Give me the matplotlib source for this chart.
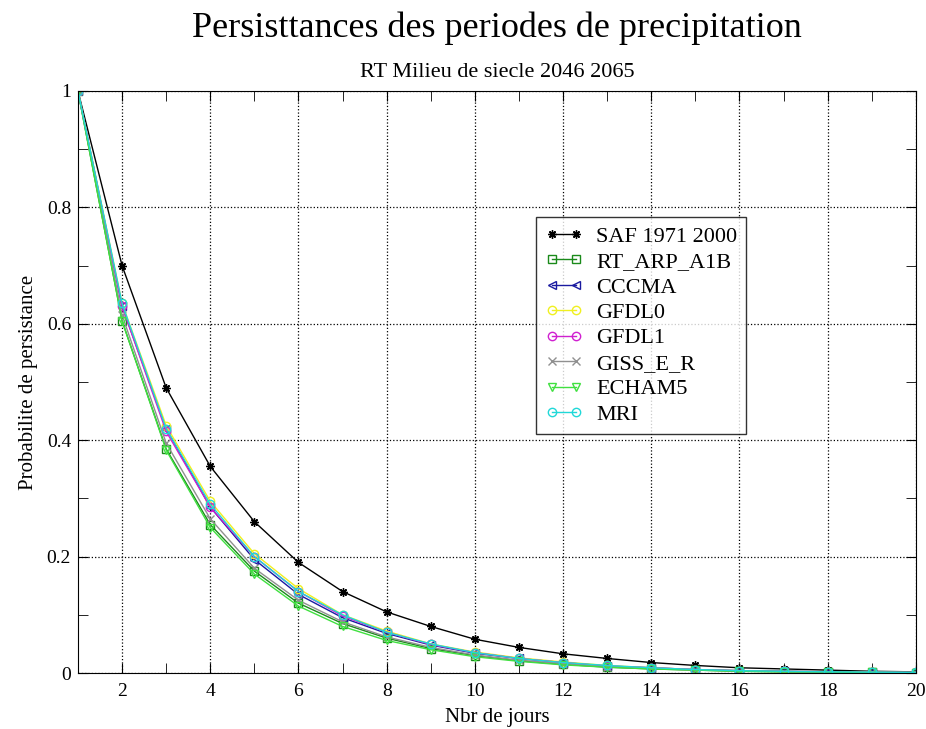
import numpy as np
import matplotlib
matplotlib.use('Agg')
import matplotlib.pyplot as plt
from matplotlib.ticker import MultipleLocator, FuncFormatter

plt.rcParams['font.family'] = ['Liberation Serif', 'DejaVu Serif']

jours = np.arange(1, 21)

saf = [1.0, 0.70, 0.49, 0.355, 0.26, 0.19, 0.14, 0.105, 0.08, 0.058,
       0.044, 0.033, 0.025, 0.018, 0.013, 0.009, 0.007, 0.005, 0.003, 0.002]
rt_arp = [1.0, 0.605, 0.385, 0.255, 0.175, 0.12, 0.085, 0.06, 0.042, 0.03,
          0.021, 0.015, 0.01, 0.007, 0.005, 0.003, 0.002, 0.0015, 0.001, 0.0007]
cccma = [1.0, 0.63, 0.42, 0.285, 0.195, 0.135, 0.095, 0.068, 0.048, 0.034,
         0.025, 0.018, 0.012, 0.009, 0.006, 0.004, 0.003, 0.002, 0.0015, 0.001]
gfdl0 = [1.0, 0.635, 0.425, 0.295, 0.205, 0.145, 0.1, 0.072, 0.05, 0.036,
         0.026, 0.019, 0.013, 0.009, 0.006, 0.004, 0.003, 0.002, 0.0015, 0.001]
gfdl1 = [1.0, 0.63, 0.415, 0.285, 0.2, 0.14, 0.098, 0.07, 0.049, 0.035,
         0.025, 0.018, 0.012, 0.009, 0.006, 0.004, 0.003, 0.002, 0.0015, 0.001]
giss = [1.0, 0.615, 0.395, 0.265, 0.18, 0.125, 0.088, 0.062, 0.044, 0.031,
        0.022, 0.016, 0.011, 0.008, 0.005, 0.004, 0.0025, 0.0018, 0.0012, 0.0008]
echam5 = [1.0, 0.605, 0.383, 0.25, 0.17, 0.115, 0.08, 0.056, 0.04, 0.028,
          0.02, 0.014, 0.01, 0.007, 0.005, 0.003, 0.002, 0.0015, 0.001, 0.0007]
mri = [1.0, 0.635, 0.42, 0.29, 0.2, 0.14, 0.1, 0.07, 0.05, 0.035,
       0.025, 0.018, 0.013, 0.009, 0.006, 0.004, 0.003, 0.002, 0.0015, 0.001]

labels = ['SAF 1971 2000', 'RT_ARP_A1B', 'CCCMA', 'GFDL0', 'GFDL1',
          'GISS_E_R', 'ECHAM5', 'MRI']
series = [saf, rt_arp, cccma, gfdl0, gfdl1, giss, echam5, mri]
colors = ['black', '#1a8a1a', '#1a1aa0', '#f0f020', '#d020d0',
          '#909090', '#40e040', '#20d8d8']
markers = [(8, 2, 0), 's', '<', 'o', 'o', 'x', 'v', 'o']

fig = plt.figure(figsize=(9.26, 7.29), dpi=100)
ax = fig.add_axes([0.0842, 0.0768, 0.9048, 0.7984])

for y, lab, c, m in zip(series, labels, colors, markers):
    ax.plot(jours, y, color=c, marker=m, markersize=6, markerfacecolor='none',
            markeredgecolor=c, linewidth=1.0, label=lab)

ax.set_xlim(1, 20)
ax.set_ylim(0, 1)
ax.xaxis.set_major_locator(MultipleLocator(2))
ax.xaxis.set_minor_locator(MultipleLocator(1))
ax.yaxis.set_major_locator(MultipleLocator(0.2))
ax.yaxis.set_minor_locator(MultipleLocator(0.1))
ax.yaxis.set_major_formatter(FuncFormatter(lambda v, p: f'{v:g}'))
ax.tick_params(which='both', direction='in', top=True, right=True, labelsize=14)
ax.tick_params(which='major', length=7)
ax.tick_params(which='minor', length=7)
ax.tick_params(axis='x', which='major', pad=7)
ax.tick_params(axis='y', which='major', pad=5)
ax.grid(True, which='major', linestyle=':', color='black', linewidth=0.9)

ax.set_xlabel('Nbr de jours', fontsize=15, labelpad=6)
ax.set_ylabel('Probabilite de persistance', fontsize=15, labelpad=6)

fig.text(0.537, 0.949, 'Persisttances des periodes de precipitation',
         ha='center', va='baseline', fontsize=26)
fig.text(0.537, 0.894, 'RT Milieu de siecle 2046 2065',
         ha='center', va='baseline', fontsize=16)

leg = ax.legend(loc='upper left', bbox_to_anchor=(0.579, 0.702),
                bbox_transform=fig.transFigure, numpoints=2, fontsize=16,
                frameon=True, fancybox=False, edgecolor='black',
                handlelength=1.7, labelspacing=0.22, borderpad=0.4,
                borderaxespad=0, handletextpad=0.6)
leg.get_frame().set_linewidth(1.0)

fig.savefig('out.png', dpi=100)
